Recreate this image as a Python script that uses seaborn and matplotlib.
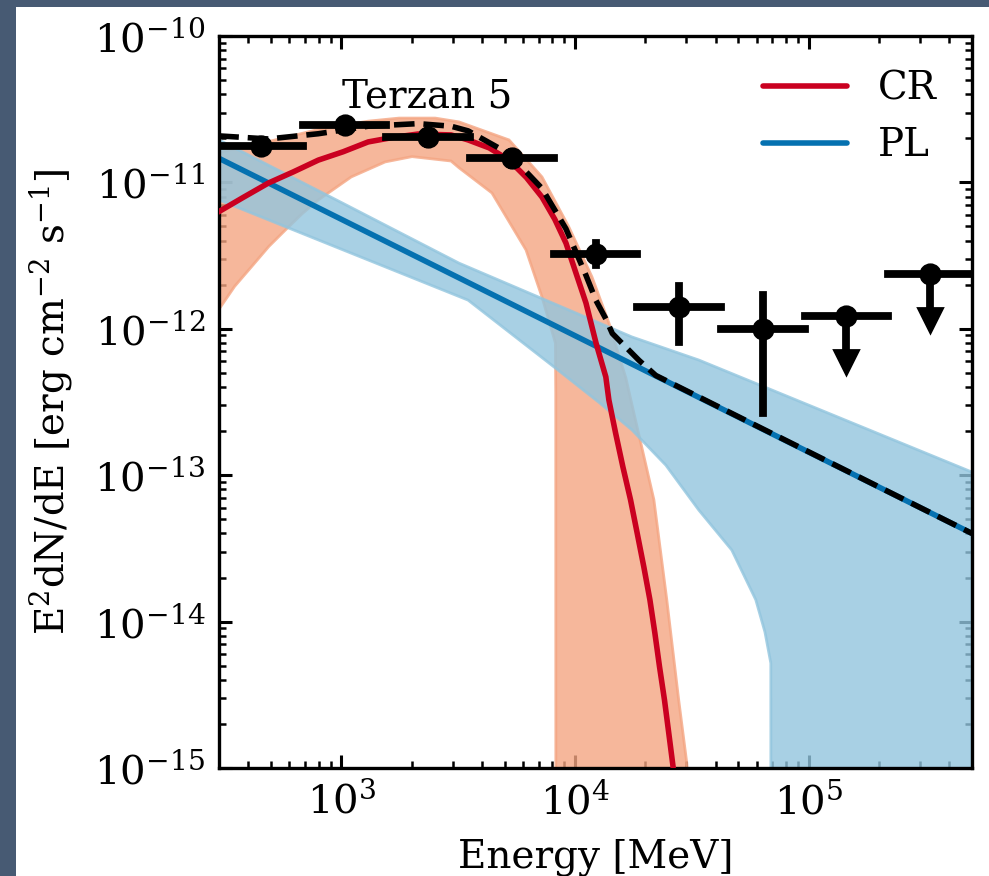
import numpy as np
import pandas as pd
import matplotlib
matplotlib.use("Agg")
import matplotlib.pyplot as plt
from matplotlib.patches import Rectangle
from matplotlib.ticker import LogLocator, NullFormatter, FixedLocator, LogFormatterMathtext
import seaborn as sns

# ---------------- data ----------------
# Flux points (SED), energies in MeV
point_energy = [453, 1033, 2355, 5370, 12250, 27930, 63680, 145200, 331100]
bin_low = [300, 684, 1560, 3556, 8110, 18490, 42170, 96160, 219300]
bin_high = [684, 1560, 3556, 8110, 18490, 42170, 96160, 219300, 500000]
point_flux = [1.77e-11, 2.47e-11, 2.04e-11, 1.47e-11, 3.24e-12, 1.41e-12, 9.97e-13, 1.22e-12, 2.37e-12]
flux_err_low = [0.15e-11, 0.2e-11, 0.2e-11, 0.15e-11, 0.52e-12, 0.597e-12, 7.31e-13, 0.0, 0.0]
flux_err_high = [0.15e-11, 0.2e-11, 0.2e-11, 0.15e-11, 0.62e-12, 0.55e-12, 7.03e-13, 0.0, 0.0]
is_upper_limit = [False, False, False, False, False, False, False, True, True]
ul_arrow_end = [None, None, None, None, None, None, None, 5.9e-13, 1.15e-12]

# CR model (red line)
cr_energy = [298, 381, 488, 624, 798, 1020, 1304, 1668, 2133, 2951, 3490, 4300, 5224, 6200,
             7228, 8200, 9155, 11150, 12310, 13560, 13970, 14930, 16040, 17300, 18460,
             19720, 20930, 21980, 23020, 24170, 25210, 26300, 27500]
cr_flux = [6.28e-12, 7.9e-12, 9.9e-12, 1.18e-11, 1.42e-11, 1.62e-11, 1.89e-11, 2.03e-11,
           2.14e-11, 2.11e-11, 1.95e-11, 1.72e-11, 1.42e-11, 1.08e-11, 7.94e-12, 5.6e-12,
           3.85e-12, 1.50e-12, 8.0e-13, 4.69e-13, 3.27e-13, 1.94e-13, 1.14e-13, 6.78e-14,
           4.03e-14, 2.36e-14, 1.41e-14, 8.36e-15, 4.90e-15, 2.91e-15, 1.73e-15, 1.02e-15,
           5e-16]

# CR uncertainty band
cr_up_energy = [298, 488, 798, 1304, 1770, 2523, 3190, 5224, 7228, 9420, 11830, 13970,
                16530, 17330, 21770, 24720, 27810, 30110, 31500]
cr_up_flux = [1.6e-11, 1.9e-11, 2.3e-11, 2.62e-11, 2.75e-11, 2.75e-11, 2.59e-11, 1.95e-11,
              1.09e-11, 4.96e-12, 2.26e-12, 1.10e-12, 4.6e-13, 3.3e-13, 6.8e-14, 1.41e-14,
              2.9e-15, 1.08e-15, 4e-16]
cr_lo_energy = [298, 350, 412, 490, 577, 680, 798, 1104, 1542, 2010, 2951, 3190, 4415, 6180,
                7228, 8250, 8280, 8290]
cr_lo_flux = [1.34e-12, 1.95e-12, 2.64e-12, 3.65e-12, 4.73e-12, 6.1e-12, 7.59e-12, 1.09e-11,
              1.38e-11, 1.5e-11, 1.4e-11, 1.26e-11, 8.47e-12, 3.45e-12, 1.65e-12, 8.0e-13,
              3.6e-13, 1e-17]

# PL model (blue line) and its band
pl_energy = [300, 500000]
pl_flux = [1.46e-11, 4.0e-14]
pl_up_energy = [300, 1000, 3190, 17530, 33880, 500000]
pl_up_flux = [1.95e-11, 7.3e-12, 2.81e-12, 8.8e-13, 6.12e-13, 1.05e-13]
pl_lo_energy = [300, 1000, 3490, 8500, 12780, 17530, 24500, 33880, 46900, 59400, 65000,
                68900, 69000, 500000]
pl_lo_flux = [7.59e-12, 3.5e-12, 1.57e-12, 5.2e-13, 3.11e-13, 2.04e-13, 1.17e-13, 5.78e-14,
              3.08e-14, 1.41e-14, 8.5e-15, 5.2e-15, 1e-17, 1e-17]

# Total model (dashed black)
tot_energy = [298, 488, 798, 1304, 2133, 2951, 3490, 5224, 7228, 9155, 11150, 12310,
              13560, 14450, 18780, 22190, 500000]
tot_flux = [2.08e-11, 1.98e-11, 2.15e-11, 2.42e-11, 2.52e-11, 2.42e-11, 2.25e-11, 1.57e-11,
            9.1e-12, 4.82e-12, 2.32e-12, 1.56e-12, 1.17e-12, 9.3e-13, 6.1e-13, 4.8e-13, 4.0e-14]

x_ticks = [1e3, 1e4, 1e5]
y_ticks = [1e-15, 1e-14, 1e-13, 1e-12, 1e-11, 1e-10]

source_label = "Terzan 5"
x_label = "Energy [MeV]"
y_label = r"E$^2$dN/dE [erg cm$^{-2}$ s$^{-1}$]"

# ---------------- style ----------------
sns.set_theme(style="ticks")
plt.rcParams["font.family"] = ["DejaVu Serif"]
plt.rcParams["mathtext.fontset"] = "dejavuserif"
plt.rcParams["axes.linewidth"] = 1.2
for k in ["text.color", "axes.labelcolor", "xtick.color", "ytick.color", "axes.edgecolor"]:
    plt.rcParams[k] = "black"

c_red = "#ca0020"
c_salmon = "#f4a582"
c_lblue = "#92c5de"
c_blue = "#0571b0"

fig = plt.figure(figsize=(989 / 200, 876 / 200), dpi=200)
fig.patch.set_facecolor("#475a73")
fig.patches.append(Rectangle((16 / 989, 0), 1 - 16 / 989, (876 - 7) / 876,
                             transform=fig.transFigure, facecolor="white",
                             edgecolor="none", zorder=-10))
ax = fig.add_axes([219 / 989, 1 - 768 / 876, (972 - 219) / 989, (768 - 36) / 876])
ax.set_xscale("log")
ax.set_yscale("log")

# bands
ax.fill(cr_up_energy + cr_lo_energy[::-1], cr_up_flux + cr_lo_flux[::-1],
        color=c_salmon, alpha=0.8, lw=1, zorder=1)
ax.fill(pl_up_energy + pl_lo_energy[::-1], pl_up_flux + pl_lo_flux[::-1],
        color=c_lblue, alpha=0.8, lw=1, zorder=1.5)

# model lines
pl_df = pd.DataFrame({"E": pl_energy, "F": pl_flux})
cr_df = pd.DataFrame({"E": cr_energy, "F": cr_flux})
tot_df = pd.DataFrame({"E": tot_energy, "F": tot_flux})
sns.lineplot(data=cr_df, x="E", y="F", ax=ax, color=c_red, lw=2.0, label="CR",
             sort=False, estimator=None, zorder=3)
sns.lineplot(data=pl_df, x="E", y="F", ax=ax, color=c_blue, lw=2.0, label="PL",
             sort=False, estimator=None, zorder=2.5)
sns.lineplot(data=tot_df, x="E", y="F", ax=ax, color="black", lw=2.0, linestyle="--",
             sort=False, estimator=None, zorder=4, legend=False)

# data points
pts = pd.DataFrame({"E": point_energy, "lo": bin_low, "hi": bin_high, "F": point_flux,
                    "elo": flux_err_low, "ehi": flux_err_high, "ul": is_upper_limit})
det = pts[~pts["ul"]]
eb = ax.errorbar(det["E"], det["F"],
                 xerr=[det["E"] - det["lo"], det["hi"] - det["E"]],
                 yerr=[det["elo"], det["ehi"]],
                 fmt="o", color="black", ms=7, elinewidth=2.8, capsize=0, zorder=5)
for coll in eb[2]:
    coll.set_capstyle("projecting")

ul = pts[pts["ul"]].copy()
ul["end"] = [v for v, f in zip(ul_arrow_end, is_upper_limit) if f]
eb2 = ax.errorbar(ul["E"], ul["F"],
                  xerr=[ul["E"] - ul["lo"], ul["hi"] - ul["E"]],
                  yerr=[ul["F"] - ul["end"], np.zeros(len(ul))],
                  fmt="o", color="black", ms=7, elinewidth=2.8, capsize=0, zorder=5)
for coll in eb2[2]:
    coll.set_capstyle("projecting")
ax.plot(ul["E"], ul["end"], ls="none", marker="v", ms=8.5, color="black", zorder=5)

# axes
ax.set_xlim(300, 5e5)
ax.set_ylim(1e-15, 1e-10)
ax.yaxis.set_major_locator(FixedLocator(y_ticks))
ax.xaxis.set_major_locator(FixedLocator(x_ticks))
ax.yaxis.set_major_formatter(LogFormatterMathtext())
ax.xaxis.set_major_formatter(LogFormatterMathtext())
ax.yaxis.set_minor_locator(LogLocator(base=10, subs=np.arange(2, 10), numticks=20))
ax.xaxis.set_minor_locator(LogLocator(base=10, subs=np.arange(2, 10), numticks=20))
ax.xaxis.set_minor_formatter(NullFormatter())
ax.yaxis.set_minor_formatter(NullFormatter())
ax.tick_params(which="both", direction="in", top=True, right=True, labelsize=14.5)
ax.tick_params(which="major", length=4.7, width=1.1)
ax.tick_params(which="minor", length=2.4, width=0.9)
ax.tick_params(axis="x", which="major", pad=5)
ax.tick_params(axis="y", which="major", pad=5)
for s in ax.spines.values():
    s.set_linewidth(1.2)
    s.set_color("black")

ax.set_xlabel(x_label, fontsize=14, labelpad=6)
ax.set_ylabel(y_label, fontsize=14, labelpad=7)

ax.text(0.163, 0.917, source_label, transform=ax.transAxes, fontsize=14,
        ha="left", va="center", zorder=6)

leg = ax.legend(loc="upper right", frameon=False, fontsize=14, handlelength=2.15,
                handletextpad=0.8)

fig.savefig("out.png", dpi=200, facecolor=fig.get_facecolor())
